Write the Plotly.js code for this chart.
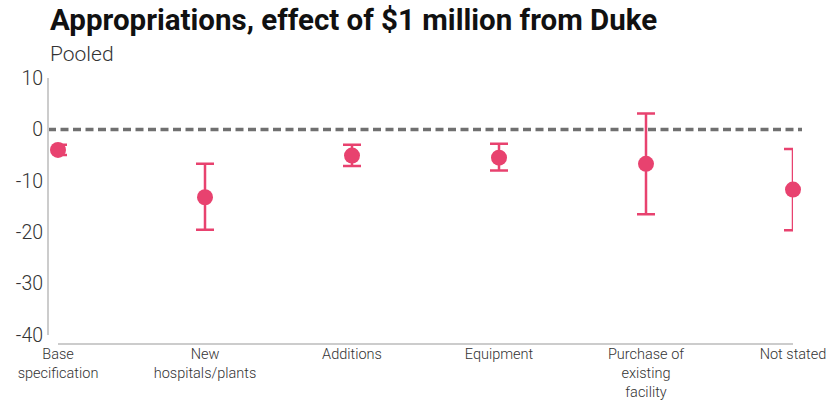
<!DOCTYPE html>
<html>
<head>
<meta charset="utf-8">
<script src="https://cdn.plot.ly/plotly-3.0.1.min.js"></script>
<style>html,body{margin:0;padding:0;background:#fff;}#chart{width:834px;height:402px;}</style>
</head>
<body>
<div id="chart"></div>
<script>
// Categories (x tick labels)
const categories = ['Base<br>specification', 'New<br>hospitals/plants', 'Additions', 'Equipment', 'Purchase of<br>existing<br>facility', 'Not stated'];
// Point estimates and confidence bounds
const estimate = [-4.0, -13.2, -5.1, -5.5, -6.7, -11.7];
const lower    = [-5.0, -19.5, -7.1, -8.0, -16.5, -19.6];
const upper    = [-3.0, -6.7, -3.0, -2.8, 3.1, -3.8];
// Y tick values and labels
const yTicks      = [10, 0, -10, -20, -30, -40];
const yTickLabels = ['10', '0', '-10', '-20', '-30', '-40'];

const xIdx = categories.map((c, i) => i);
const errPlus = upper.map((u, i) => u - estimate[i]);
const errMinus = estimate.map((e, i) => e - lower[i]);

const pink = '#E8426F';
const W = 834, H = 402;
const ml = 48, mr = 32, mt = 78, mb = 58;
const pw = W - ml - mr, ph = H - mt - mb;

const trace = {
  type: 'scatter',
  mode: 'markers',
  x: xIdx,
  y: estimate,
  cliponaxis: false,
  marker: {color: pink, size: 16},
  error_y: {type: 'data', symmetric: false, array: errPlus, arrayminus: errMinus,
            color: pink, thickness: 2.5, width: 9},
  hoverinfo: 'none'
};

const layout = {
  width: W, height: H,
  margin: {l: ml, r: mr, t: mt, b: mb, pad: 0},
  paper_bgcolor: '#fff', plot_bgcolor: '#fff',
  showlegend: false,
  font: {family: 'Roboto, sans-serif', color: '#333'},
  title: {
    text: '<b>Appropriations, effect of $1 million from Duke</b>',
    font: {family: 'Roboto, sans-serif', size: 29.5, color: '#111'},
    xref: 'container', x: 50 / W, xanchor: 'left',
    yref: 'container', y: 1 - 9 / H, yanchor: 'top'
  },
  annotations: [{
    text: 'Pooled', showarrow: false,
    xref: 'paper', yref: 'paper', x: 0.0, y: 1 + 38 / ph,
    xanchor: 'left', yanchor: 'top',
    font: {family: 'Roboto, sans-serif', size: 21, color: '#333', weight: 300}
  }],
  xaxis: {
    domain: [10 / pw, 745 / pw],
    range: [0, 5],
    anchor: 'free', position: 0,
    tickvals: xIdx, ticktext: categories,
    showgrid: false, zeroline: false,
    showline: true, linecolor: '#cccccc', linewidth: 2,
    ticks: '',
    ticklabelstandoff: -3,
    tickfont: {family: 'Roboto, sans-serif', size: 14.5, color: '#333', weight: 300}
  },
  yaxis: {
    domain: [9 / ph, 1],
    range: [-40, 10],
    anchor: 'free', position: 0,
    tickvals: yTicks, ticktext: yTickLabels,
    showgrid: false, zeroline: false,
    showline: true, linecolor: '#cccccc', linewidth: 2,
    ticks: '',
    tickfont: {family: 'Roboto, sans-serif', size: 19.5, color: '#333', weight: 300}
  },
  shapes: [{
    type: 'line', xref: 'paper', yref: 'y',
    x0: 0, x1: 1, y0: 0, y1: 0,
    line: {color: '#707070', width: 3.5, dash: '8px,4.5px'},
    layer: 'below'
  }]
};

Plotly.newPlot('chart', [trace], layout, {displayModeBar: false, staticPlot: true});
</script>
</body>
</html>
